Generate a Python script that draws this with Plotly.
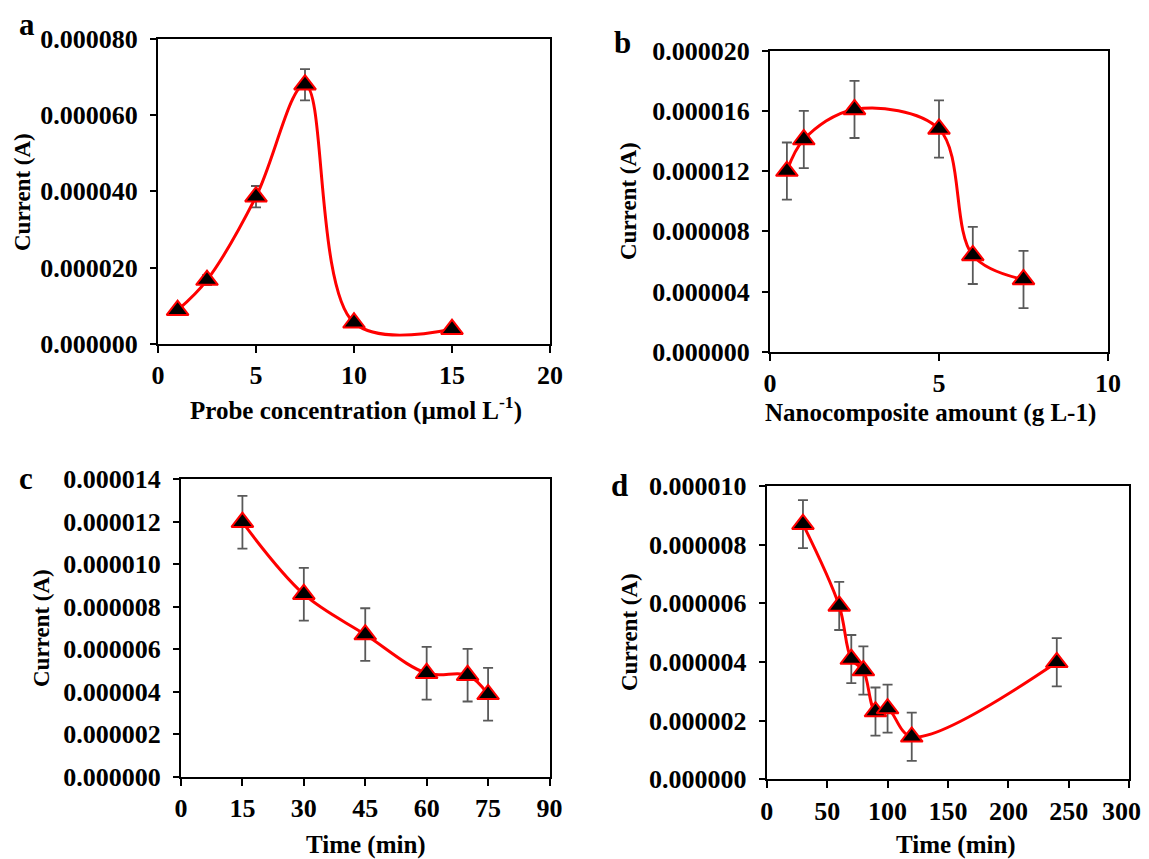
import plotly.graph_objects as go

W, H = 1149, 859
OFF = 8  # page body margin offset
FW, FH = W - OFF, H - OFF

# ---- data ----
a_x = [1, 2.5, 5, 7.5, 10, 15]
a_y = [8.8e-6, 1.67e-5, 3.86e-5, 6.8e-5, 5.5e-6, 3.8e-6]
a_err = [0.8e-6, 1.3e-6, 2.8e-6, 4.1e-6, 0.9e-6, 0.7e-6]

b_x = [0.5, 1, 2.5, 5, 6, 7.5]
b_y = [1.2e-5, 1.41e-5, 1.61e-5, 1.48e-5, 6.4e-6, 4.8e-6]
b_err = [1.9e-6, 1.9e-6, 1.9e-6, 1.9e-6, 1.9e-6, 1.9e-6]

c_x = [15, 30, 45, 60, 70, 75]
c_y = [1.198e-5, 8.59e-6, 6.69e-6, 4.87e-6, 4.78e-6, 3.88e-6]
c_err = [1.24e-6, 1.24e-6, 1.24e-6, 1.24e-6, 1.24e-6, 1.24e-6]

d_x = [30, 60, 70, 80, 90, 100, 120, 240]
d_y = [8.70e-6, 5.91e-6, 4.10e-6, 3.71e-6, 2.31e-6, 2.41e-6, 1.45e-6, 3.99e-6]
d_err = [0.82e-6] * 8

# tick values / labels of panel d's x axis
d_xtick_vals = [0, 50, 100, 150, 200, 250, 300]
d_xtick_text = ["0", "50", "100", "150", "200", "250", "300"]

panel_letters = ["a", "b", "c", "d"]
x_titles = ["Probe concentration (µmol L<sup>-1</sup>)", "Nanocomposite amount (g L-1)",
            "Time (min)", "Time (min)"]
y_title = "Current (A)"

x_ranges = [(0, 20, 5), (0, 10, 5), (0, 90, 15), (0, 300, 50)]
y_ranges = [(0, 8e-5, 2e-5), (0, 2e-5, 4e-6), (0, 1.4e-5, 2e-6), (0, 1e-5, 2e-6)]

# ---- layout geometry (page pixels) ----
boxes = [(158, 550, 39, 343.7), (770, 1108, 50.7, 351.7),
         (181, 549.5, 479.3, 776.7), (766.7, 1129.3, 486, 779.3)]


def fx(px):
    return (px - OFF) / FW


def fy(py):
    return 1 - (py - OFF) / FH


FONT = "Liberation Serif"
TICKFONT = dict(family=FONT, size=26, color="black", weight="bold")
fig = go.Figure()
datasets = [(a_x, a_y, a_err), (b_x, b_y, b_err), (c_x, c_y, c_err), (d_x, d_y, d_err)]

for i, (xs, ys, es) in enumerate(datasets):
    n = "" if i == 0 else str(i + 1)
    fig.add_trace(go.Scatter(
        x=xs, y=ys, mode="lines+markers",
        xaxis="x" + n, yaxis="y" + n,
        line=dict(color="#ff0000", width=3, shape="spline", smoothing=1.0),
        marker=dict(symbol="triangle-up", size=19, color="black",
                    line=dict(color="#ff0000", width=2)),
        error_y=dict(type="data", array=es, visible=True, color="#595959",
                     thickness=1.8, width=5),
        showlegend=False,
    ))

layout = dict(template="none", width=FW, height=FH,
              margin=dict(l=0, r=0, t=0, b=0, pad=0, autoexpand=False),
              paper_bgcolor="white", plot_bgcolor="white",
              font=dict(family=FONT, color="black", size=24, weight="bold"))

for i, (x0, x1, y0, y1) in enumerate(boxes):
    n = "" if i == 0 else str(i + 1)
    xr = x_ranges[i]
    yr = y_ranges[i]
    xa = dict(
        domain=[fx(x0), fx(x1)], anchor="y" + n, range=[xr[0], xr[1]], dtick=xr[2],
        tick0=0, showgrid=False, zeroline=False, showline=True, linecolor="black",
        linewidth=2, mirror=True, ticks="outside", ticklen=7, tickwidth=1.5,
        tickcolor="black", ticklabelstandoff=0, automargin=False,
        tickfont=TICKFONT)
    if i == 3:
        # last label is drawn as an annotation nudged inward (it sits at the page edge)
        xa.update(tickmode="array", tickvals=d_xtick_vals,
                  ticktext=d_xtick_text[:-1] + [""])
    layout["xaxis" + n] = xa
    layout["yaxis" + n] = dict(
        domain=[fy(y1), fy(y0)], anchor="x" + n, range=[yr[0], yr[1]],
        dtick=yr[2], tick0=0, tickformat=".6f", showgrid=False, zeroline=False,
        showline=True, linecolor="black", linewidth=2, mirror=True,
        ticks="outside", ticklen=6, tickwidth=1.5, tickcolor="black",
        ticklabelstandoff=7, automargin=False,
        tickfont=TICKFONT)

annotations = []
annotations.append(dict(x=d_xtick_vals[-1], xref="x4", y=fy(811), yref="paper",
                        text=d_xtick_text[-1], showarrow=False, xshift=-8,
                        xanchor="center", yanchor="middle", font=TICKFONT))

letter_pos = [(27, 24), (622, 42), (26, 478), (619, 485)]
for (lx, ly), t in zip(letter_pos, panel_letters):
    annotations.append(dict(x=fx(lx), y=fy(ly), xref="paper", yref="paper",
                            text=t, showarrow=False, xanchor="center", yanchor="middle",
                            font=dict(family=FONT, size=31, color="black", weight="bold")))

ytitle_pos = [(22, 192), (629, 201), (41, 628), (629, 632)]
for (tx, ty) in ytitle_pos:
    annotations.append(dict(x=fx(tx), y=fy(ty), xref="paper", yref="paper",
                            text=y_title, showarrow=False, textangle=-90,
                            xanchor="center", yanchor="middle",
                            font=dict(family=FONT, size=23, color="black", weight="bold")))

xtitle_pos = [(356, 408), (930, 413), (366, 845), (956, 845)]
for (tx, ty), t in zip(xtitle_pos, x_titles):
    annotations.append(dict(x=fx(tx), y=fy(ty), xref="paper", yref="paper",
                            text=t, showarrow=False, xanchor="center", yanchor="middle",
                            font=dict(family=FONT, size=25, color="black", weight="bold")))

layout["annotations"] = annotations
fig.update_layout(**layout)
fig.write_html("out.html")
